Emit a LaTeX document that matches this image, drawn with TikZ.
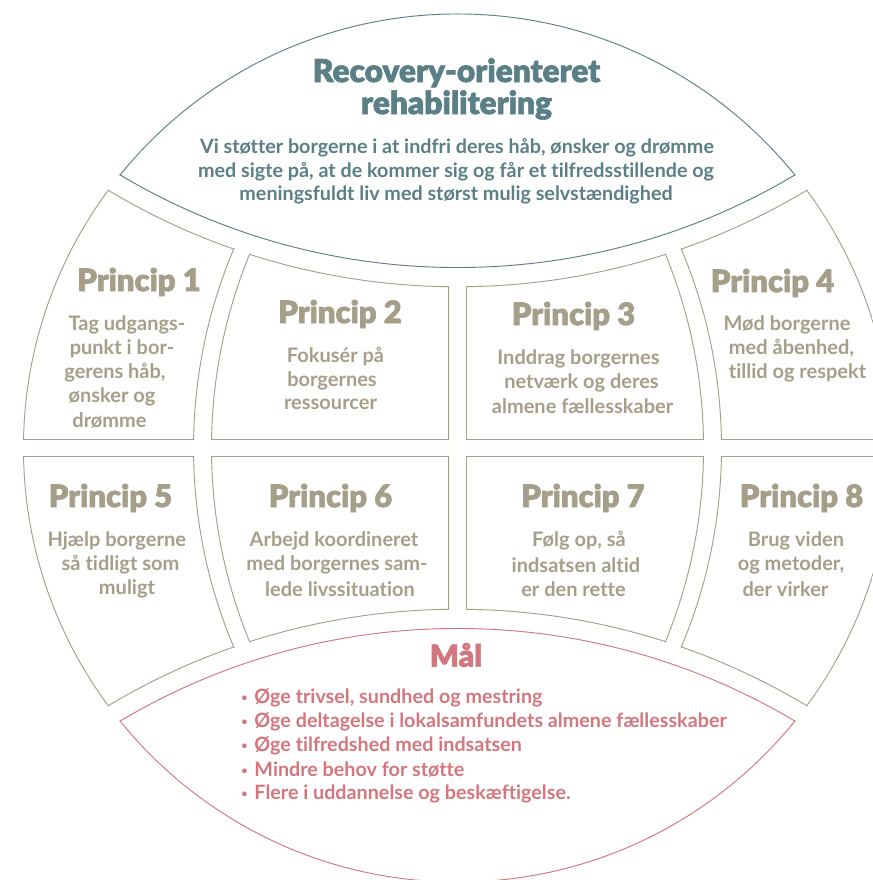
\documentclass[tikz,border=0pt]{standalone}
\usepackage{fontspec}
\setmainfont{Lato}[Ligatures=NoCommon]
\newfontfamily\heavy{Lato Black}[Ligatures=NoCommon, BoldFont=Lato Black, BoldFeatures={FakeBold=2}]
\definecolor{teal}{HTML}{5B7F87}
\definecolor{khaki}{HTML}{A59F8A}
\definecolor{pink}{HTML}{D4767E}
\def\cx{457.5}\def\cy{448}\def\R{434.5}
\def\ctt{-392.7}\def\ctb{1288.7}
\def\rA{660.7}\def\rB{679}
\def\rd{510}
\newcommand\smallbul{\raisebox{0.2ex}{\scalebox{0.55}{•}}\hspace{0.35em}}
\begin{document}
\begin{tikzpicture}[x=0.75pt,y=-0.75pt,even odd rule,
  edge/.style={line width=1.4pt},
  ttl/.style={font=\heavy\bfseries\fontsize{23.7}{24}\selectfont, text=teal, align=center},
  sub/.style={font=\bfseries\fontsize{14.8}{17.6}\selectfont, text=teal, align=center},
  prc/.style={font=\heavy\bfseries\fontsize{23.2}{26}\selectfont, text=khaki},
  dsc/.style={font=\bfseries\fontsize{15}{18}\selectfont, text=khaki},
  maltitle/.style={font=\heavy\bfseries\fontsize{22.7}{24}\selectfont, text=pink},
  bul/.style={font=\bfseries\fontsize{14.8}{17.6}\selectfont, text=pink, anchor=west, inner sep=0pt}]
\useasboundingbox[fill=white] (0,0) rectangle (872,880);
\def\Disk{(\cx,\cy) circle[radius=\R]}
% ---------- top cap
\begin{scope}
\clip \Disk; \clip (\cx,\ctt) circle[radius=\rA];
\draw[teal,edge] \Disk; \draw[teal,edge] (\cx,\ctt) circle[radius=\rA];
\end{scope}
% ---------- bottom cap
\begin{scope}
\clip \Disk; \clip (\cx,\ctb) circle[radius=\rA];
\draw[pink,edge] \Disk; \draw[pink,edge] (\cx,\ctb) circle[radius=\rA];
\end{scope}
% ---------- cells
\newcommand\cellbox[3]{%
\begin{scope}
\clip \Disk;
\clip (-200,-200) rectangle (1100,1100) (\cx,#2) circle[radius=\rB];
\clip #1;
#3
\draw[khaki,edge] \Disk;
\draw[khaki,edge] (\cx,#2) circle[radius=\rB];
\draw[khaki,edge] #1;
\end{scope}}
\def\rowA{(-200,-200) rectangle (1100,439.5)}
\def\rowB{(-200,456.5) rectangle (1100,1100)}
\foreach \rowclip/\arcy in {\rowA/\ctt,\rowB/\ctb}{
  \cellbox{\rowclip}{\arcy}{\clip (-200,-200) rectangle (1100,1100) (704,448) circle[radius=\rd];
    \draw[khaki,edge] (704,448) circle[radius=\rd];}
  \cellbox{\rowclip}{\arcy}{\clip (721,448) circle[radius=\rd]; \clip (-200,-200) rectangle (449,1100);
    \draw[khaki,edge] (721,448) circle[radius=\rd]; \draw[khaki,edge] (-200,-200) rectangle (449,1100);}
  \cellbox{\rowclip}{\arcy}{\clip (194,448) circle[radius=\rd]; \clip (466,-200) rectangle (1100,1100);
    \draw[khaki,edge] (194,448) circle[radius=\rd]; \draw[khaki,edge] (466,-200) rectangle (1100,1100);}
  \cellbox{\rowclip}{\arcy}{\clip (-200,-200) rectangle (1100,1100) (211,448) circle[radius=\rd];
    \draw[khaki,edge] (211,448) circle[radius=\rd];}
}
% ---------- texts
\node[ttl] (title) at (456.5,89) {Recovery-orienteret\\rehabilitering};
\node[sub] (sub1) at (457,148) {Vi støtter borgerne i at indfri deres håb, ønsker og drømme};
\node[sub] (sub2) at (456,171.5) {med sigte på, at de kommer sig og får et tilfredsstillende og};
\node[sub] (sub3) at (456,195) {meningsfuldt liv med størst mulig selvstændighed};

\node[prc] (p1) at (139,282) {Princip 1};
\node[dsc] (p1a) at (127,324.5) {Tag udgangs-};
\node[dsc] (p1b) at (122,348.5) {punkt i bor-};
\node[dsc] (p1c) at (115,372.5) {gerens håb,};
\node[dsc] (p1d) at (112,396.5) {ønsker og};
\node[dsc] (p1e) at (109.5,420) {drømme};

\node[prc] (p2) at (340,314) {Princip 2};
\node[dsc] (p2a) at (335.5,357) {Fokusér på};
\node[dsc] (p2b) at (332,380.5) {borgernes};
\node[dsc] (p2c) at (330.5,404) {ressourcer};

\node[prc] (p3) at (573.5,316) {Princip 3};
\node[dsc] (p3a) at (578.5,359) {Inddrag borgernes};
\node[dsc] (p3b) at (581.5,383) {netværk og deres};
\node[dsc] (p3c) at (582.5,406.5) {almene fællesskaber};

\node[prc] (p4) at (772.5,283) {Princip 4};
\node[dsc] (p4a) at (787,325) {Mød borgerne};
\node[dsc] (p4b) at (791.5,348.5) {med åbenhed,};
\node[dsc] (p4c) at (797.5,372.5) {tillid og respekt};

\node[prc] (p5) at (110.5,498) {Princip 5};
\node[dsc] (p5a) at (116.7,541) {Hjælp borgerne};
\node[dsc] (p5b) at (120.5,565) {så tidligt som};
\node[dsc] (p5c) at (127,589) {muligt};

\node[prc] (p6) at (330.5,498) {Princip 6};
\node[dsc] (p6a) at (334,541) {Arbejd koordineret};
\node[dsc] (p6b) at (337,565) {med borgernes sam-};
\node[dsc] (p6c) at (340,589) {lede livssituation};

\node[prc] (p7) at (583,498) {Princip 7};
\node[dsc] (p7a) at (579,541) {Følg op, så};
\node[dsc] (p7b) at (576,565) {indsatsen altid};
\node[dsc] (p7c) at (573.5,589) {er den rette};

\node[prc] (p8) at (801.5,498) {Princip 8};
\node[dsc] (p8a) at (796,541) {Brug viden};
\node[dsc] (p8b) at (791,565) {og metoder,};
\node[dsc] (p8c) at (785.5,589) {der virker};

\node[maltitle] (mal) at (456,655) {Mål};
\node[bul] (m1) at (241,698) {\smallbul Øge trivsel, sundhed og mestring};
\node[bul] (m2) at (241,722) {\smallbul Øge deltagelse i lokalsamfundets almene fællesskaber};
\node[bul] (m3) at (241,746) {\smallbul Øge tilfredshed med indsatsen};
\node[bul] (m4) at (241,770) {\smallbul Mindre behov for støtte};
\node[bul] (m5) at (241,794) {\smallbul Flere i uddannelse og beskæftigelse.};
\end{tikzpicture}
\end{document}
